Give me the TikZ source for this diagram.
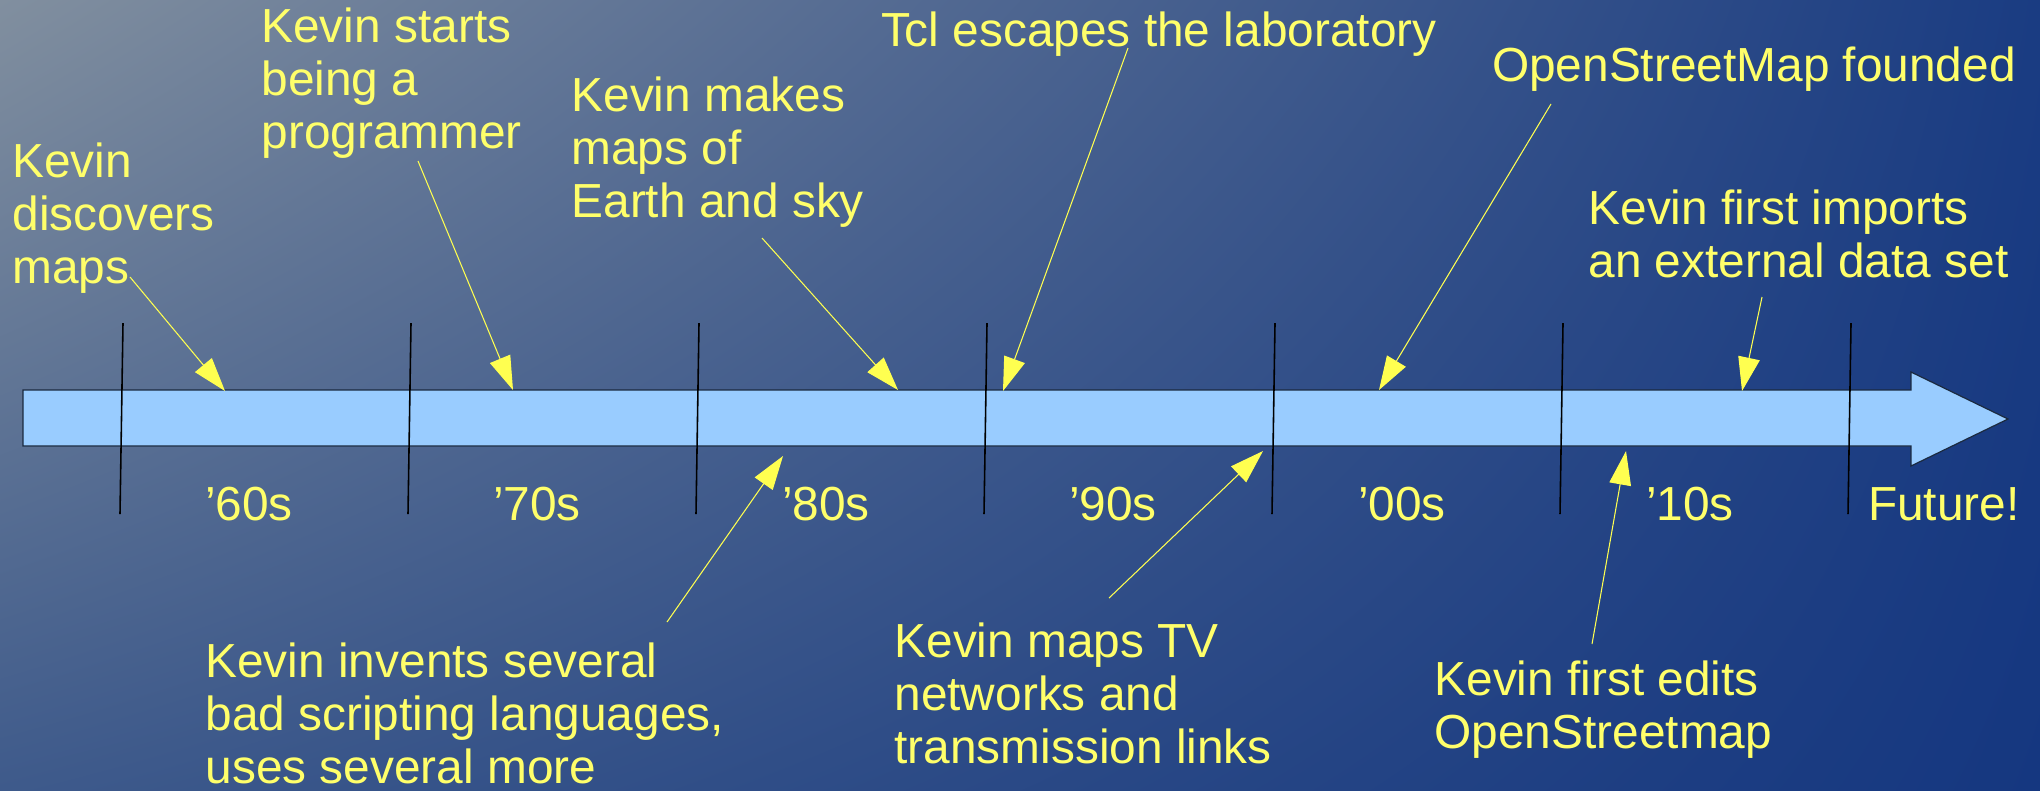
\documentclass[tikz,border=0pt]{standalone}
\usepackage{fontspec}
\setmainfont{Liberation Sans}
\usetikzlibrary{arrows.meta,shadings}
\definecolor{bgUL}{HTML}{818F9F}
\definecolor{bgUR}{HTML}{1A3C82}
\definecolor{bgLL}{HTML}{3E5A8B}
\definecolor{bgLR}{HTML}{153780}
\definecolor{txtyellow}{HTML}{FFFF6A}
\definecolor{arryellow}{HTML}{FFFF50}
\definecolor{barblue}{HTML}{99CCFF}
\definecolor{baredge}{HTML}{1B2A40}
\tikzset{
  evtext/.style={font={\fontsize{13.6pt}{15.05pt}\selectfont}, text=txtyellow, inner sep=0pt, outer sep=0pt, anchor=base west, align=left},
  decade/.style={evtext},
  callout/.style={draw=arryellow, line width=0.3pt, -{Triangle[length=9.6pt,width=6.2pt,fill=arryellow]}},
  tickline/.style={draw=black, line width=0.45pt},
  timebar/.style={fill=barblue, draw=baredge, line width=0.35pt}
}
\begin{document}
\begin{tikzpicture}[x=0.01cm, y=-0.01cm]
\useasboundingbox (0,0) rectangle (2040,790);
\shade[upper left=bgUL, upper right=bgUR, lower left=bgLL, lower right=bgLR] (0,0) rectangle (2040,790);

% time bar
\draw[timebar] (23,390) -- (1911,390) -- (1911,372) -- (2008,419) -- (1911,466) -- (1911,446) -- (23,446) -- cycle;

% ticks
\foreach \k in {0,...,6} {
  \draw[tickline] ({123+288*\k},323) -- ({120+288*\k},514);
}

% decade labels
\node[decade] (d60) at (205,520) {’60s};
\node[decade] (d70) at (493,520) {’70s};
\node[decade] (d80) at (782,520) {’80s};
\node[decade] (d90) at (1069,520) {’90s};
\node[decade] (d00) at (1358,520) {’00s};
\node[decade] (d10) at (1646,520) {’10s};
\node[decade] (dfu) at (1868,520) {Future!};

% event labels (anchor = baseline of last line)
\node[evtext] (t1) at (12.5,283) {Kevin\\discovers\\maps};
\node[evtext] (t2) at (261.5,148) {Kevin starts\\being a\\programmer};
\node[evtext] (t3) at (571.5,217) {Kevin makes\\maps of\\Earth and sky};
\node[evtext] (t4) at (881,46) {Tcl escapes the laboratory};
\node[evtext] (t5) at (1492,81) {OpenStreetMap founded};
\node[evtext] (t6) at (1588.5,277) {Kevin first imports\\an external data set};
\node[evtext] (t7) at (205.5,783) {Kevin invents several\\bad scripting languages,\\uses several more};
\node[evtext] (t8) at (894.5,763) {Kevin maps TV\\networks and\\transmission links};
\node[evtext] (t9) at (1434.5,748) {Kevin first edits\\OpenStreetmap};

% connector ends
\coordinate (s1) at (130,277);  \coordinate (e1) at (225,391);
\coordinate (s2) at (418,161);  \coordinate (e2) at (513,390);
\coordinate (s3) at (762,238);  \coordinate (e3) at (898,390);
\coordinate (s4) at (1128,48);  \coordinate (e4) at (1003,391);
\coordinate (s5) at (1551,104); \coordinate (e5) at (1379,390);
\coordinate (s6) at (1762,297); \coordinate (e6) at (1742,391);
\coordinate (s7) at (667,622);  \coordinate (e7) at (783,456);
\coordinate (s8) at (1109,598); \coordinate (e8) at (1263,451);
\coordinate (s9) at (1592,644); \coordinate (e9) at (1626,451);

\foreach \i in {1,...,9} {
  \draw[callout] (s\i) -- (e\i);
}
\end{tikzpicture}
\end{document}
